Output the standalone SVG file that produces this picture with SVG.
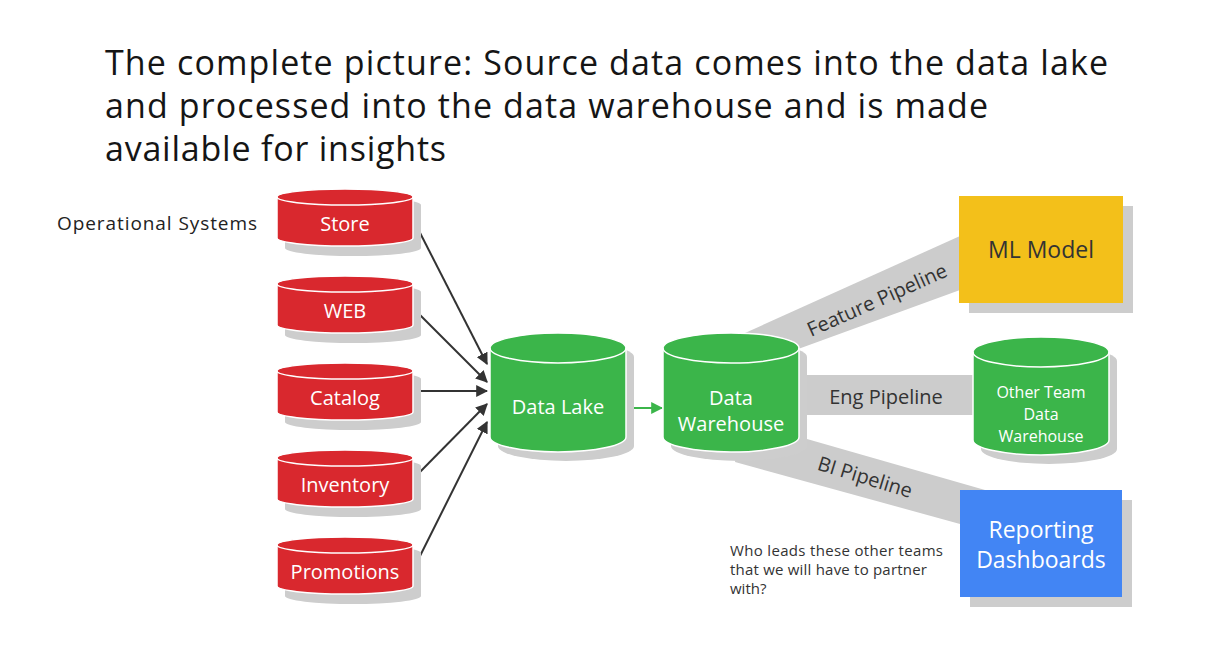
<svg xmlns="http://www.w3.org/2000/svg" width="1208" height="650" viewBox="0 0 1208 650">
<style>
.title{font-family:"Open Sans",Roboto,"Liberation Sans",sans-serif;font-size:34px;fill:#151515}
.lbl{font-family:"Open Sans",Roboto,"Liberation Sans",sans-serif;font-size:20px;fill:#fff;text-anchor:middle}
.dark{font-family:"Open Sans",Roboto,"Liberation Sans",sans-serif;font-size:20px;fill:#333;text-anchor:middle}
.small{font-family:"Open Sans",Roboto,"Liberation Sans",sans-serif;font-size:15px;fill:#333}
.red{fill:#d9282e;stroke:#fff;stroke-width:1.5}
.green{fill:#3bb54a;stroke:#fff;stroke-width:1.5}
.shadow{fill:#cdcdcd}
.lid{fill:none;stroke:#fff;stroke-width:1.5}
.band{fill:#cccccc}
.arrow{stroke:#333;stroke-width:2;fill:none;marker-end:url(#ah)}
</style>
<defs>
<marker id="ah" viewBox="0 0 10 10" refX="9" refY="5" markerWidth="6" markerHeight="6" orient="auto" markerUnits="strokeWidth">
<path d="M0,0 L10,5 L0,10 z" fill="#333"/>
</marker>
<marker id="ahg" viewBox="0 0 10 10" refX="9" refY="5" markerWidth="6" markerHeight="6" orient="auto" markerUnits="strokeWidth">
<path d="M0,0 L10,5 L0,10 z" fill="#3bb54a"/>
</marker>
</defs>
<rect width="1208" height="650" fill="#fff"/>
<g id="title">
<text class="title" x="105" y="75" textLength="1003">The complete picture: Source data comes into the data lake</text>
<text class="title" x="105" y="118" textLength="883">and processed into the data warehouse and is made</text>
<text class="title" x="105" y="161" textLength="341">available for insights</text>
</g>
<text x="57" y="230" textLength="200" style="font-family:'Open Sans',Roboto,'Liberation Sans',sans-serif;font-size:19px;fill:#222">Operational Systems</text>

<g id="connectors">
<polygon class="band" points="745,333 960,236 960,290 790,352 745,360"/>
<rect class="band" x="780" y="375" width="200" height="40"/>
<polygon class="band" points="740,420 800,437 985,490 960,524 735,462"/>
<line class="arrow" x1="415" y1="223" x2="487" y2="364"/>
<line class="arrow" x1="415" y1="310" x2="487" y2="382"/>
<line class="arrow" x1="415" y1="391" x2="487" y2="391"/>
<line class="arrow" x1="415" y1="477" x2="487" y2="404"/>
<line class="arrow" x1="415" y1="566" x2="487" y2="422"/>
<line x1="630" y1="408" x2="662" y2="408" stroke="#3bb54a" stroke-width="2" marker-end="url(#ahg)"/>
<text class="dark" transform="translate(877,300) rotate(-24)" dy="7">Feature Pipeline</text>
<text class="dark" x="886" y="404">Eng Pipeline</text>
<text class="dark" transform="translate(865,477) rotate(17)" dy="7">BI Pipeline</text>
</g>

<g id="store">
<path class="shadow" d="M285,205 A68,8 0 0 1 421,205 V248 A68,8 0 0 1 285,248 Z"/>
<path class="red" d="M277,197 A68,8 0 0 1 413,197 V238 A68,8 0 0 1 277,238 Z"/>
<path class="lid" d="M277,197 A68,8 0 0 0 413,197"/>
<text class="lbl" x="345" y="231">Store</text>
</g>
<g id="web">
<path class="shadow" d="M285,292 A68,8 0 0 1 421,292 V335 A68,8 0 0 1 285,335 Z"/>
<path class="red" d="M277,284 A68,8 0 0 1 413,284 V325 A68,8 0 0 1 277,325 Z"/>
<path class="lid" d="M277,284 A68,8 0 0 0 413,284"/>
<text class="lbl" x="345" y="318">WEB</text>
</g>
<g id="catalog">
<path class="shadow" d="M285,379 A68,8 0 0 1 421,379 V422 A68,8 0 0 1 285,422 Z"/>
<path class="red" d="M277,371 A68,8 0 0 1 413,371 V412 A68,8 0 0 1 277,412 Z"/>
<path class="lid" d="M277,371 A68,8 0 0 0 413,371"/>
<text class="lbl" x="345" y="405">Catalog</text>
</g>
<g id="inventory">
<path class="shadow" d="M285,466 A68,8 0 0 1 421,466 V509 A68,8 0 0 1 285,509 Z"/>
<path class="red" d="M277,458 A68,8 0 0 1 413,458 V499 A68,8 0 0 1 277,499 Z"/>
<path class="lid" d="M277,458 A68,8 0 0 0 413,458"/>
<text class="lbl" x="345" y="492">Inventory</text>
</g>
<g id="promotions">
<path class="shadow" d="M285,553 A68,8 0 0 1 421,553 V596 A68,8 0 0 1 285,596 Z"/>
<path class="red" d="M277,545 A68,8 0 0 1 413,545 V586 A68,8 0 0 1 277,586 Z"/>
<path class="lid" d="M277,545 A68,8 0 0 0 413,545"/>
<text class="lbl" x="345" y="579">Promotions</text>
</g>

<g id="datalake">
<path class="shadow" d="M498,357 A68,15 0 0 1 634,357 V446 A68,15 0 0 1 498,446 Z"/>
<path class="green" d="M490,348 A68,15 0 0 1 626,348 V437 A68,15 0 0 1 490,437 Z"/>
<path class="lid" d="M490,348 A68,15 0 0 0 626,348"/>
<text class="lbl" x="558" y="414">Data Lake</text>
</g>
<g id="datawarehouse">
<path class="shadow" d="M671,357 A68,15 0 0 1 807,357 V446 A68,15 0 0 1 671,446 Z"/>
<path class="green" d="M663,348 A68,15 0 0 1 799,348 V437 A68,15 0 0 1 663,437 Z"/>
<path class="lid" d="M663,348 A68,15 0 0 0 799,348"/>
<text class="lbl" x="731" y="405">Data</text>
<text class="lbl" x="731" y="431">Warehouse</text>
</g>
<g id="mlmodel">
<rect class="shadow" x="969" y="206" width="164" height="107"/>
<rect x="959" y="196" width="164" height="107" fill="#f3c01a"/>
<text class="dark" x="1041" y="258" style="font-size:23px">ML Model</text>
</g>
<g id="otherteam">
<path class="shadow" d="M981,361 A68,15 0 0 1 1117,361 V449 A68,15 0 0 1 981,449 Z"/>
<path class="green" d="M973,352 A68,15 0 0 1 1109,352 V440 A68,15 0 0 1 973,440 Z"/>
<path class="lid" d="M973,352 A68,15 0 0 0 1109,352"/>
<text class="lbl" x="1041" y="398" style="font-size:16px">Other Team</text>
<text class="lbl" x="1041" y="420" style="font-size:16px">Data</text>
<text class="lbl" x="1041" y="442" style="font-size:16px">Warehouse</text>
</g>
<g id="reporting">
<rect class="shadow" x="970" y="500" width="162" height="107"/>
<rect x="960" y="490" width="162" height="107" fill="#4285f4"/>
<text class="lbl" x="1041" y="538" style="font-size:23px">Reporting</text>
<text class="lbl" x="1041" y="568" style="font-size:23px">Dashboards</text>
</g>
<g id="note">
<text class="small" x="730" y="556" textLength="213">Who leads these other teams</text>
<text class="small" x="730" y="575" textLength="197">that we will have to partner</text>
<text class="small" x="730" y="594">with?</text>
</g>
</svg>
